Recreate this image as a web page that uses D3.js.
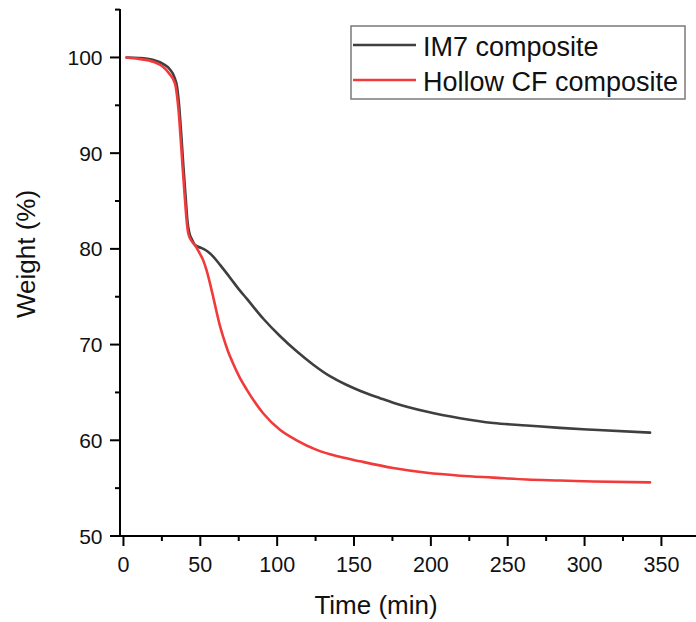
<!DOCTYPE html>
<html>
<head>
<meta charset="utf-8">
<script src="https://cdn.jsdelivr.net/npm/d3@7"></script>
<style>
  html, body { margin: 0; padding: 0; background: #fff; }
  svg { display: block; font-family: "Liberation Sans", Arial, sans-serif; }
</style>
</head>
<body>
<svg id="chart" width="696" height="622"></svg>
<script>
// TGA weight loss, time (min) vs remaining weight (%)
const im7Time = [2, 10, 19, 26, 30, 33, 35, 36.2, 37.5, 39, 40.5, 41.7, 42.8, 44.5, 46.5, 49, 52, 55, 58.4, 63, 69.3, 75, 80.2, 91, 101.8, 112.7, 123.5, 134.3, 145, 155, 167, 176, 197, 219, 240.6, 262.3, 284, 305.7, 342.6];
const im7Weight = [100.0, 99.95, 99.75, 99.3, 98.8, 98.0, 96.8, 95.0, 92.2, 88.6, 85.3, 82.8, 81.7, 81.0, 80.4, 80.2, 80.0, 79.7, 79.2, 78.3, 77.0, 75.8, 74.8, 72.7, 70.9, 69.3, 67.9, 66.7, 65.8, 65.1, 64.4, 63.9, 63.0, 62.3, 61.8, 61.55, 61.3, 61.1, 60.8];

const hollowTime = [2, 10, 19.4, 25.9, 29.6, 33.5, 35, 36, 37, 38.5, 40, 41.2, 42.2, 44, 46.5, 49, 51.9, 54, 56.3, 58.5, 60.6, 62.7, 64.9, 68, 71.4, 75.5, 80.2, 91, 101.8, 112.7, 125.7, 140, 154, 175.5, 197.3, 219, 240.6, 262.3, 284, 305.7, 342.6];
const hollowWeight = [100.0, 99.85, 99.55, 99.0, 98.35, 97.3, 95.8, 94.2, 92.0, 88.5, 85.2, 82.8, 81.6, 80.9, 80.4, 79.7, 78.8, 77.8, 76.4, 74.9, 73.4, 72.0, 70.8, 69.3, 68.0, 66.6, 65.3, 62.8, 61.1, 60.0, 59.0, 58.3, 57.8, 57.1, 56.6, 56.3, 56.1, 55.9, 55.8, 55.7, 55.6];

const seriesNames = ["IM7 composite", "Hollow CF composite"];
const seriesColors = ["#3f3f3f", "#f23a3a"];

const xMajorTicks = [0, 50, 100, 150, 200, 250, 300, 350];
const xMinorTicks = [25, 75, 125, 175, 225, 275, 325];
const yMajorTicks = [50, 60, 70, 80, 90, 100];
const yMinorTicks = [55, 65, 75, 85, 95, 105];

const svg = d3.select("#chart");

const x = d3.scaleLinear().domain([-1.6, 372.5]).range([121, 696]);
const y = d3.scaleLinear().domain([50, 105]).range([536, 9.6]);

const toPoints = (ts, ws) => ts.map((t, i) => ({ t, w: ws[i] }));
const series = [
  { name: seriesNames[0], color: seriesColors[0], values: toPoints(im7Time, im7Weight) },
  { name: seriesNames[1], color: seriesColors[1], values: toPoints(hollowTime, hollowWeight) }
];

const line = d3.line()
  .x(d => x(d.t))
  .y(d => y(d.w))
  .curve(d3.curveMonotoneX);

// curves
svg.append("g")
  .selectAll("path")
  .data(series)
  .join("path")
  .attr("d", d => line(d.values))
  .attr("fill", "none")
  .attr("stroke", d => d.color)
  .attr("stroke-width", 2.6)
  .attr("stroke-linejoin", "round")
  .attr("stroke-linecap", "round");

// x axis
const xAxis = svg.append("g").attr("transform", "translate(0,536)");
xAxis.append("line")
  .attr("x1", 120).attr("x2", 696)
  .attr("stroke", "#000").attr("stroke-width", 2);
xAxis.selectAll(".xmaj").data(xMajorTicks).join("line")
  .attr("x1", d => x(d)).attr("x2", d => x(d))
  .attr("y1", 0).attr("y2", 10)
  .attr("stroke", "#000").attr("stroke-width", 2);
xAxis.selectAll(".xmin").data(xMinorTicks).join("line")
  .attr("x1", d => x(d)).attr("x2", d => x(d))
  .attr("y1", 0).attr("y2", 5)
  .attr("stroke", "#000").attr("stroke-width", 2);
xAxis.selectAll("text").data(xMajorTicks).join("text")
  .attr("x", d => x(d)).attr("y", 35.5)
  .attr("text-anchor", "middle")
  .attr("font-size", 21.5)
  .attr("fill", "#111")
  .text(d => d);

// y axis
const yAxis = svg.append("g").attr("transform", "translate(120,0)");
yAxis.append("line")
  .attr("y1", 9).attr("y2", 537)
  .attr("stroke", "#000").attr("stroke-width", 2);
yAxis.selectAll(".ymaj").data(yMajorTicks).join("line")
  .attr("y1", d => y(d)).attr("y2", d => y(d))
  .attr("x1", 0).attr("x2", -10)
  .attr("stroke", "#000").attr("stroke-width", 2);
yAxis.selectAll(".ymin").data(yMinorTicks).join("line")
  .attr("y1", d => y(d)).attr("y2", d => y(d))
  .attr("x1", 0).attr("x2", -5)
  .attr("stroke", "#000").attr("stroke-width", 2);
yAxis.selectAll("text").data(yMajorTicks).join("text")
  .attr("x", -17.5).attr("y", d => y(d) + 7.5)
  .attr("text-anchor", "end")
  .attr("font-size", 21)
  .attr("fill", "#111")
  .text(d => d);

// axis titles
svg.append("text")
  .attr("x", 376).attr("y", 614)
  .attr("text-anchor", "middle")
  .attr("font-size", 26)
  .attr("fill", "#111")
  .text("Time (min)");

svg.append("text")
  .attr("transform", "translate(35,254) rotate(-90)")
  .attr("text-anchor", "middle")
  .attr("font-size", 26)
  .attr("fill", "#111")
  .text("Weight (%)");

// legend
const legend = svg.append("g");
legend.append("rect")
  .attr("x", 351).attr("y", 26)
  .attr("width", 334).attr("height", 73)
  .attr("fill", "#fff")
  .attr("stroke", "#7a7a7a").attr("stroke-width", 1.5);
const rowY = [45, 80];
const rows = legend.selectAll(".row").data(series).join("g")
  .attr("transform", (d, i) => `translate(0,${rowY[i]})`);
rows.append("line")
  .attr("x1", 353).attr("x2", 416)
  .attr("stroke", d => d.color).attr("stroke-width", 2.6);
rows.append("text")
  .attr("x", 423).attr("y", 10.5)
  .attr("font-size", 27)
  .attr("fill", "#111")
  .text(d => d.name);
</script>
</body>
</html>
